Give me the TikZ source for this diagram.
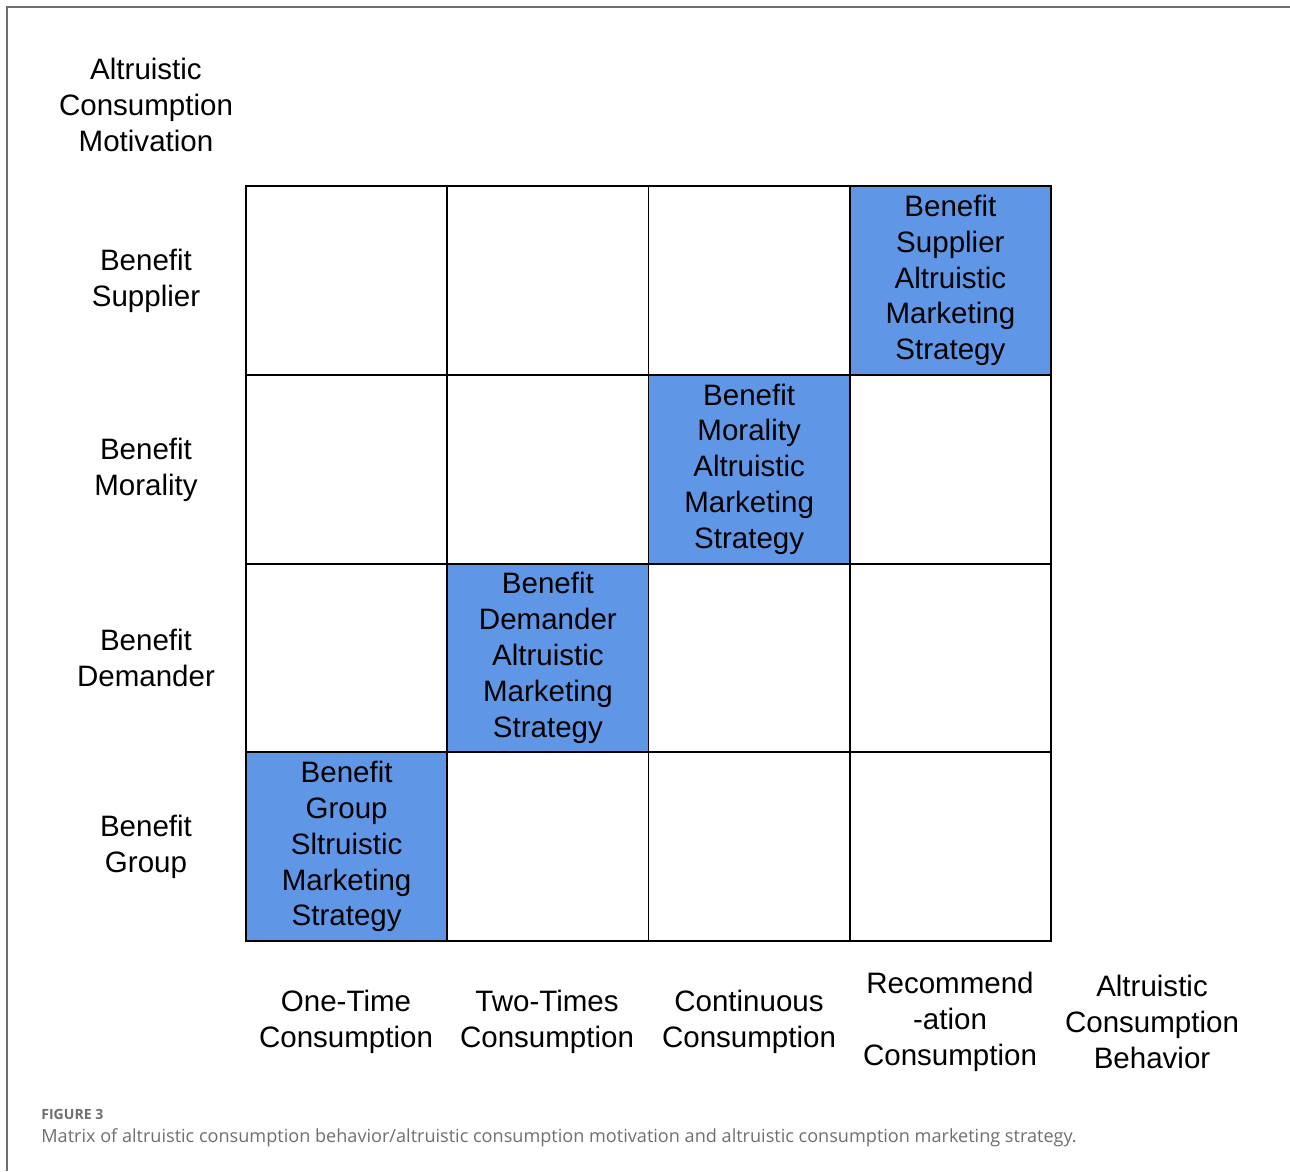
\documentclass[tikz,border=0pt]{standalone}
\usepackage{fontspec}
\setmainfont{Liberation Sans}
\newfontfamily\capfont{Open Sans}
\definecolor{cellblue}{RGB}{96,150,230}
\definecolor{capgray}{RGB}{110,110,110}
\begin{document}
\begin{tikzpicture}[x=0.02cm,y=-0.02cm,
  cell/.style={draw,line width=1.1pt,minimum width=4.025cm,minimum height=3.775cm,
    inner sep=0pt,align=center,font=\fontsize{16.8}{20.4}\selectfont},
  hit/.style={cell,fill=cellblue},
  lbl/.style={align=center,font=\fontsize{16.8}{20.4}\selectfont}]
  \useasboundingbox (0,0) rectangle (1290,1171);
  \draw[capgray,line width=0.7pt] (7,1171) -- (7,7) -- (1290,7);

  % grid of empty cells
  \foreach \r in {1,...,4}
    \foreach \c in {1,...,4}
      \node[cell] (m\r\c) at ({246+201.25*(\c-0.5)},{186+188.75*(\r-0.5)}) {};

  % diagonal strategies
  \node[hit] (supplier) at (m14) {Benefit\\Supplier\\Altruistic\\Marketing\\Strategy};
  \node[hit] (morality) at (m23) {Benefit\\Morality\\Altruistic\\Marketing\\Strategy};
  \node[hit] (demander) at (m32) {Benefit\\Demander\\Altruistic\\Marketing\\Strategy};
  \node[hit] (group) at (m41) {Benefit\\Group\\Sltruistic\\Marketing\\Strategy};

  % motivation axis
  \node[lbl] (motiv) at (146,105) {Altruistic\\Consumption\\Motivation};
  \node[lbl] (rsup) at (146,281) {Benefit\\Supplier};
  \node[lbl] (rmor) at (146,470) {Benefit\\Morality};
  \node[lbl] (rdem) at (146,658) {Benefit\\Demander};
  \node[lbl] (rgrp) at (146,847) {Benefit\\Group};

  % behavior axis
  \node[lbl] (once) at (346,1022) {One-Time\\Consumption};
  \node[lbl] (twice) at (547,1022) {Two-Times\\Consumption};
  \node[lbl] (cont) at (749,1022) {Continuous\\Consumption};
  \node[lbl] (recom) at (950,1022) {Recommend\\-ation\\Consumption};
  \node[lbl] (behav) at (1152,1022) {Altruistic\\Consumption\\Behavior};

  % caption
  \node[anchor=west,inner sep=0pt,text=capgray,font=\capfont\bfseries\fontsize{8}{10}\selectfont] (fig) at (41,1114) {FIGURE 3};
  \node[anchor=west,inner sep=0pt,text=capgray,font=\capfont\fontsize{10.3}{12}\selectfont] (cap) at (41,1138)
    {Matrix of altruistic consumption behavior/altruistic consumption motivation and altruistic consumption marketing strategy.};
\end{tikzpicture}
\end{document}
